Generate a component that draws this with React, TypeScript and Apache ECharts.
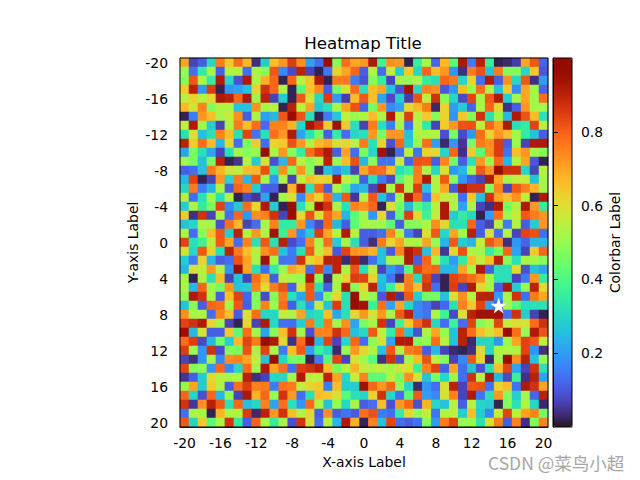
import React, { useEffect, useRef } from "react";
import * as echarts from "echarts";

const tickLabels = Array.from({ length: 41 }, (_, i) => String(i - 20));

// Cell values in hundredths, columns -20..-1, rows -20..20 top to bottom
const leftColumns: number[][] = [
  [70,7,11,30,76,64,78,67,4,28,66,72,85,73,21,13,96,48,78,70],
  [50,13,35,52,11,53,54,13,53,48,81,17,8,90,7,2,14,62,70,79],
  [48,81,53,35,92,30,9,92,53,68,79,2,79,55,65,92,2,76,76,15],
  [64,90,19,85,2,19,21,26,62,87,79,53,2,42,65,74,11,46,59,78],
  [55,62,54,61,92,90,79,92,50,90,7,28,2,81,59,30,85,19,6,66],
  [67,59,75,48,53,53,26,26,73,52,54,2,90,54,70,27,32,53,70,82],
  [2,15,72,66,53,56,73,11,53,20,24,81,96,82,32,2,15,27,55,50],
  [56,92,52,28,7,53,76,66,78,13,75,75,68,30,93,87,64,94,64,32],
  [32,59,26,32,75,66,32,84,14,32,78,72,92,21,32,46,11,35,13,30],
  [90,64,78,66,24,61,13,46,64,13,62,64,82,72,54,67,70,59,61,55],
  [21,46,32,21,7,32,52,48,50,96,53,72,48,35,78,85,92,11,70,13],
  [52,46,26,46,90,2,5,53,28,59,9,24,79,55,48,54,90,50,66,82],
  [11,13,26,76,68,59,55,66,67,82,35,73,48,72,48,3,26,19,26,7],
  [24,84,2,7,72,30,76,24,81,52,19,53,7,55,66,62,62,92,56,48],
  [30,76,15,24,53,11,79,75,28,11,11,2,68,92,32,79,11,53,42,21],
  [54,13,32,52,32,54,2,8,5,21,2,52,59,17,70,62,78,24,81,5],
  [28,53,35,46,84,17,27,78,61,92,28,2,96,32,52,96,87,52,32,75],
  [64,4,87,7,53,13,79,19,73,75,87,7,96,61,82,59,79,70,24,42],
  [26,30,53,52,9,78,67,7,13,52,75,35,35,72,17,8,79,24,11,42],
  [53,13,48,66,81,28,90,54,72,53,94,37,72,17,28,85,70,55,92,54],
  [84,32,37,55,81,70,13,75,32,81,32,90,8,13,75,52,78,28,52,32],
  [59,30,81,62,32,90,76,66,54,73,78,26,15,32,81,55,66,10,84,72],
  [28,15,62,24,11,13,82,70,52,94,52,14,14,87,61,66,90,90,3,92],
  [24,59,55,72,55,19,96,70,32,13,35,50,70,66,13,84,17,90,52,82],
  [52,2,53,32,66,7,26,7,78,68,11,55,53,50,92,48,3,53,62,85],
  [53,24,79,52,46,72,26,28,75,61,76,82,11,59,81,32,11,53,92,48],
  [50,92,87,53,11,66,84,12,48,8,48,76,32,21,81,17,48,61,32,96],
  [26,48,11,79,78,52,81,11,48,75,50,78,11,32,19,56,26,85,32,96],
  [73,52,53,13,75,66,11,59,78,30,30,56,53,70,30,32,66,21,32,61],
  [84,87,92,62,52,7,2,61,7,92,30,13,13,28,76,32,76,52,73,21],
  [96,24,59,11,11,64,42,78,52,21,48,66,87,52,9,75,75,87,79,26],
  [78,85,8,24,46,28,66,84,76,96,92,61,4,78,96,24,84,7,30,79],
  [85,52,19,87,8,48,46,82,52,84,53,15,66,81,21,37,30,3,50,72],
  [7,4,19,52,17,73,75,70,56,26,96,30,46,46,2,15,42,84,7,59],
  [84,48,50,19,79,17,30,78,52,92,70,78,13,85,87,90,66,46,55,68],
  [5,11,28,61,54,53,53,90,4,7,30,30,52,92,55,55,90,70,30,56],
  [50,70,28,64,54,11,78,85,75,76,15,78,76,56,62,64,15,66,28,28],
  [79,30,9,79,24,50,7,92,68,79,50,87,72,13,32,66,64,59,42,32],
  [87,5,73,90,81,32,79,26,30,75,21,78,32,19,79,53,26,50,30,52],
  [13,53,52,2,68,53,54,85,3,90,72,87,66,54,61,11,73,11,14,11],
  [81,30,64,42,53,87,35,11,79,53,35,53,9,87,59,13,54,24,92,68],
];

// Cell values in hundredths, columns 0..20
const rightColumns: number[][] = [
  [72,92,38,73,72,2,36,52,12,67,42,92,15,90,36,2,3,6,70,81,12],
  [11,53,13,56,28,64,30,79,66,72,19,4,76,82,26,76,48,48,30,64,10],
  [9,48,35,7,52,50,54,35,32,79,76,30,62,13,92,11,73,30,81,4,20],
  [32,66,70,26,9,94,30,75,73,10,19,66,50,78,53,26,64,17,70,52,12],
  [81,66,21,8,28,6,82,55,87,48,30,8,84,52,81,92,28,52,70,52,78],
  [12,46,72,17,21,61,67,76,3,62,20,28,12,52,79,62,4,11,72,52,52],
  [53,66,53,92,56,85,54,64,48,62,19,64,48,87,32,52,24,92,82,66,32],
  [7,76,32,15,52,13,55,35,7,64,72,82,82,55,79,70,92,32,35,84,55],
  [32,72,46,72,72,26,53,53,54,9,46,8,19,78,62,72,66,52,35,26,11],
  [76,32,62,9,79,28,50,78,20,3,19,5,46,76,73,85,11,50,7,92,92],
  [46,30,94,2,13,55,14,62,61,30,79,4,64,42,73,85,14,66,72,52,48],
  [24,48,14,14,56,12,82,81,11,75,46,11,32,72,50,79,24,53,70,10,2],
  [70,79,78,66,32,37,76,53,30,59,19,24,52,81,72,96,87,87,30,7,54],
  [11,32,15,8,42,52,76,92,54,81,48,19,11,7,92,70,52,55,56,26,52],
  [24,7,94,54,87,52,85,26,53,70,10,92,87,87,48,75,7,81,75,68,52],
  [53,81,26,12,52,92,79,13,66,56,54,13,64,26,87,70,66,73,56,2,92],
  [73,79,2,59,46,24,42,35,54,92,53,21,53,7,4,92,46,54,92,72,35],
  [52,19,61,11,42,85,61,37,56,92,28,35,30,2,20,78,50,56,81,76,72],
  [52,52,52,42,11,48,48,53,73,61,32,32,79,11,7,55,15,54,11,28,72],
  [11,11,13,75,53,15,7,59,81,30,70,52,90,11,59,13,54,7,84,82,13],
  [11,4,76,61,70,53,53,70,50,24,81,28,24,56,81,75,4,19,12,24,24],
  [72,68,26,10,75,92,87,26,68,5,61,82,53,52,35,46,79,21,7,64,79],
  [3,13,26,53,53,92,11,79,52,32,20,35,66,56,66,90,48,32,52,52,48],
  [32,55,7,19,13,42,84,78,79,24,24,70,53,92,11,32,32,61,9,26,21],
  [84,62,26,14,3,75,30,84,7,2,84,81,78,73,52,32,32,7,15,72,35],
  [61,90,24,37,61,76,66,87,13,2,85,7,92,61,52,11,92,28,50,90,61],
  [54,50,10,92,5,81,28,46,46,26,59,73,55,90,90,20,52,87,13,76,70],
  [94,37,78,21,70,30,17,13,7,12,32,75,64,84,21,12,52,42,32,32,32],
  [72,59,72,53,81,90,17,14,53,37,8,59,90,94,94,94,13,87,28,7,2],
  [46,52,87,7,37,64,79,87,30,13,37,13,84,48,53,84,56,59,59,78,87],
  [30,81,56,35,78,26,9,53,70,50,26,90,78,66,59,66,96,78,50,92,82],
  [13,48,59,21,92,92,48,50,78,55,26,90,3,30,30,19,50,70,84,81,56],
  [62,54,26,81,54,76,78,11,24,7,3,2,4,61,30,53,53,53,84,19,4],
  [52,42,4,87,9,52,66,82,55,48,7,17,81,61,3,52,96,73,90,26,50],
  [56,55,55,52,59,59,37,75,84,11,70,13,26,9,32,66,84,21,7,87,32],
  [75,42,42,54,46,73,59,26,46,30,50,13,87,55,92,24,8,37,4,90,21],
  [94,79,72,79,50,30,3,19,13,59,90,7,81,82,14,62,66,14,92,87,70],
  [30,62,87,30,13,42,81,20,17,59,75,7,92,14,32,72,48,28,52,12,90],
  [11,13,66,9,72,79,9,68,30,26,54,11,55,30,28,2,48,32,53,30,3],
  [78,82,15,13,35,61,50,56,14,53,55,28,66,28,17,56,84,54,70,75,46],
  [2,75,26,84,13,11,14,48,20,76,84,50,50,32,59,76,11,75,4,48,75],
];

const starPoint = ["15", "7"];
const colorbarTicks = [0.2, 0.4, 0.6, 0.8];

const FONT = "DejaVu Sans";
const STAR =
  "path://M50 0 L61.8 35.5 L97.6 35.5 L68.7 57.5 L79.4 92.7 L50 71 L20.6 92.7 L31.3 57.5 L2.4 35.5 L38.2 35.5 Z";

function turbo(t: number): string {
  const clamp = (v: number) => Math.max(0, Math.min(255, Math.round(v)));
  const r = clamp(34.61 + t * (1172.33 - t * (10793.56 - t * (33300.12 - t * (38394.49 - t * 14825.05)))));
  const g = clamp(23.31 + t * (557.33 + t * (1225.33 - t * (3574.96 - t * (1073.77 + t * 707.56)))));
  const b = clamp(27.2 + t * (3211.1 - t * (15327.97 - t * (27814 - t * (22569.18 - t * 6838.66)))));
  return `rgb(${r},${g},${b})`;
}

export default function App() {
  const ref = useRef<HTMLDivElement>(null);
  useEffect(() => {
    const chart = echarts.init(ref.current!, undefined, { renderer: "svg" });
    const cells: number[][] = [];
    leftColumns.forEach((row, r) => row.forEach((v, c) => cells.push([c, r, v / 100])));
    rightColumns.forEach((row, r) => row.forEach((v, c) => cells.push([c + 20, r, v / 100])));
    const stops = Array.from({ length: 33 }, (_, i) => turbo(i / 32));
    const axisText = { color: "#000", fontFamily: FONT, fontSize: 13.9 };
    const line = { show: true, lineStyle: { color: "#000", width: 1 } };
    chart.setOption({
      animation: false,
      backgroundColor: "#fff",
      title: {
        text: "Heatmap Title",
        left: 358,
        top: 30,
        textAlign: "center",
        textStyle: { color: "#000", fontFamily: FONT, fontSize: 16.67, fontWeight: "normal" },
      },
      grid: [
        { left: 180, top: 58, width: 368, height: 369 },
        { left: 553, top: 58, width: 19, height: 369 },
      ],
      xAxis: [
        {
          type: "category",
          data: tickLabels,
          position: "bottom",
          name: "X-axis Label",
          nameLocation: "middle",
          nameGap: 28,
          nameMoveOverlap: false,
          nameTextStyle: axisText,
          axisLine: line,
          axisTick: { alignWithLabel: true, interval: 3, length: 5, lineStyle: { color: "#000" } },
          axisLabel: { ...axisText, interval: 3, margin: 9 },
          splitLine: { show: false },
          splitArea: { show: false },
        },
        { gridIndex: 1, type: "value", min: 0, max: 1, show: false },
      ],
      yAxis: [
        {
          type: "category",
          data: tickLabels,
          inverse: true,
          name: "Y-axis Label",
          nameLocation: "middle",
          nameGap: 40,
          nameMoveOverlap: false,
          nameRotate: 90,
          nameTextStyle: axisText,
          axisLine: line,
          axisTick: { alignWithLabel: true, interval: 3, length: 5, lineStyle: { color: "#000" } },
          axisLabel: { ...axisText, interval: 3, margin: 12 },
          splitLine: { show: false },
          splitArea: { show: false },
        },
        {
          gridIndex: 1,
          type: "value",
          position: "right",
          min: 0,
          max: 1,
          interval: 0.2,
          name: "Colorbar Label",
          nameLocation: "middle",
          nameGap: 36,
          nameMoveOverlap: false,
          nameRotate: 90,
          nameTextStyle: axisText,
          axisLine: line,
          axisTick: { show: true, length: 5, lineStyle: { color: "#000", width: 1 }, customValues: colorbarTicks },
          axisLabel: { ...axisText, margin: 9, customValues: colorbarTicks, formatter: (v: number) => v.toFixed(1) },
          splitLine: { show: false },
          z: 20,
        },
      ],
      visualMap: {
        type: "continuous",
        min: 0,
        max: 1,
        seriesIndex: 0,
        dimension: 2,
        left: 553,
        top: 58,
        padding: 0,
        itemWidth: 19,
        itemHeight: 369,
        calculable: false,
        hoverLink: false,
        inRange: { color: stops },
      },
      series: [
        {
          type: "heatmap",
          data: cells,
          silent: true,
          itemStyle: { borderWidth: 0 },
          emphasis: { disabled: true },
        },
        {
          type: "scatter",
          data: [starPoint],
          symbol: STAR,
          symbolSize: 16,
          silent: true,
          itemStyle: { color: "#fff", opacity: 1 },
          z: 5,
        },
        { type: "line", xAxisIndex: 1, yAxisIndex: 1, data: [] },
      ],
      graphic: [
        {
          type: "rect",
          z: 100,
          silent: true,
          shape: { x: 180, y: 58, width: 368, height: 369 },
          style: { fill: "none", stroke: "#000", lineWidth: 1 },
        },
        {
          type: "rect",
          z: 100,
          silent: true,
          shape: { x: 553, y: 58, width: 19, height: 369 },
          style: { fill: "none", stroke: "#000", lineWidth: 1 },
        },
        {
          type: "text",
          z: 100,
          silent: true,
          x: 488,
          y: 454,
          style: {
            text: "CSDN @菜鸟小超",
            fill: "#a6a6a6",
            font: '17.5px "Noto Sans CJK SC", "DejaVu Sans", sans-serif',
          },
        },
      ],
    });
    return () => chart.dispose();
  }, []);
  return (
    <div
      ref={ref}
      style={{ position: "fixed", left: 0, top: 0, width: 640, height: 480, background: "#fff" }}
    />
  );
}
